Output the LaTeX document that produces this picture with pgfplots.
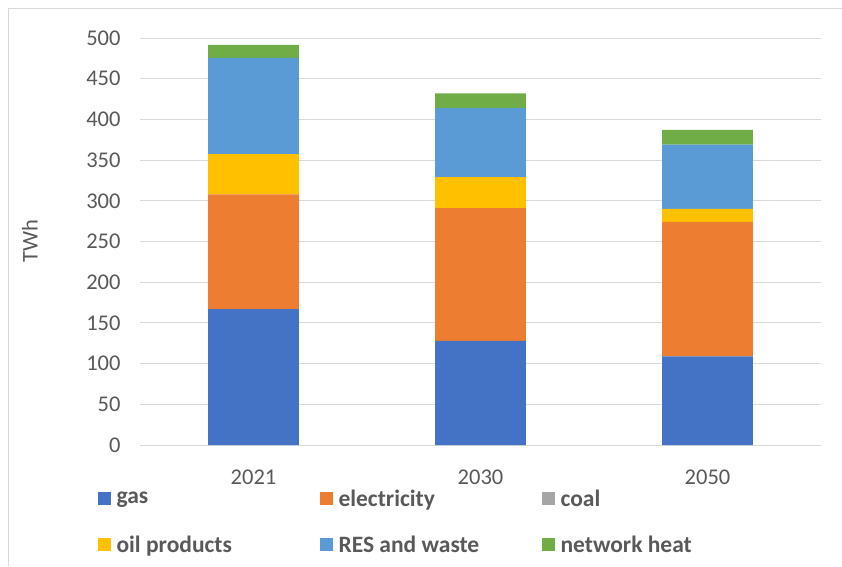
\documentclass[border=0pt]{standalone}
\usepackage{fontspec}
\setmainfont{Carlito}
\usepackage{pgfplots}
\pgfplotsset{compat=1.18}
\definecolor{cgas}{HTML}{4472C4}
\definecolor{celec}{HTML}{ED7D31}
\definecolor{ccoal}{HTML}{A5A5A5}
\definecolor{coil}{HTML}{FFC000}
\definecolor{cres}{HTML}{5B9BD5}
\definecolor{cheat}{HTML}{70AD47}
\definecolor{gridc}{HTML}{D9D9D9}
\definecolor{txtc}{HTML}{595959}
\begin{document}
\begin{tikzpicture}[x=1pt,y=1pt]
\useasboundingbox (0,0) rectangle (842,-566);
\draw[gridc, line width=1pt] (8,-566) -- (8,-8) -- (842,-8);
\begin{axis}[
  at={(140pt,-445pt)}, anchor=south west,
  scale only axis, width=681pt, height=407pt,
  ybar stacked, bar width=0.4,
  xmin=-0.5, xmax=2.5, ymin=0, ymax=500,
  xtick={0,1,2}, xticklabels={2021,2030,2050},
  ytick={0,50,...,500},
  ymajorgrids, grid style={gridc, line width=1pt},
  axis x line*=bottom, axis y line*=left,
  axis line style={draw=none},
  major tick length=0pt,
  /pgf/number format/assume math mode=true,
  ticklabel style={font=\fontsize{22.5}{27}\selectfont, text=txtc},
  yticklabel style={xshift=-16pt},
  xticklabel style={yshift=-21pt},
  ylabel={TWh},
  ylabel style={font=\fontsize{22.5}{27}\selectfont, text=txtc, at={(axis description cs:-0.145,0.5)}, anchor=south},
  legend image code/.code={\fill[#1] (0pt,-6.5pt) rectangle (13pt,6.5pt);},
  legend style={at={(axis description cs:-0.067,-0.1)}, anchor=north west,
    draw=none, fill=none, legend columns=3, row sep=24pt,
    font=\fontsize{23.5}{28}\selectfont\bfseries, text=txtc,
    /tikz/every odd column/.append style={column sep=4pt}},
]
\addplot[fill=cgas, draw=none] coordinates {(0,167) (1,128) (2,109)};
\addlegendentry{\makebox[201pt][l]{gas}}
\addplot[fill=celec, draw=none] coordinates {(0,141) (1,163) (2,165)};
\addlegendentry{\makebox[201pt][l]{electricity}}
% coal is zero in every year: legend entry only
\addlegendimage{fill=ccoal, draw=none}
\addlegendentry{\makebox[150pt][l]{coal}}
\addplot[fill=coil, draw=none] coordinates {(0,49.5) (1,38) (2,16)};
\addlegendentry{\makebox[201pt][l]{oil products}}
\addplot[fill=cres, draw=none] coordinates {(0,118) (1,85) (2,79)};
\addlegendentry{\makebox[201pt][l]{RES and waste}}
\addplot[fill=cheat, draw=none] coordinates {(0,16) (1,18) (2,18)};
\addlegendentry{\makebox[150pt][l]{network heat}}
\end{axis}
\end{tikzpicture}
\end{document}
